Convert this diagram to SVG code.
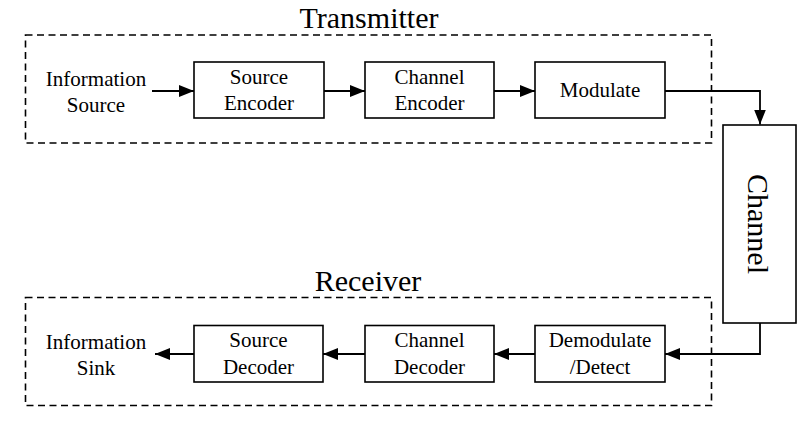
<svg xmlns="http://www.w3.org/2000/svg" width="807" height="426" viewBox="0 0 807 426">
<defs>
<marker id="ah" markerUnits="userSpaceOnUse" markerWidth="16" markerHeight="12" refX="15" refY="6" orient="auto">
<path d="M0,0 L15,6 L0,12 Z" fill="#000"/>
</marker>
<style>
text{font-family:"Liberation Serif","Times New Roman",serif;fill:#000;text-anchor:middle}
.t{font-size:21px}
.h{font-size:30px}
.box{fill:#fff;stroke:#000;stroke-width:1.6}
.dash{fill:none;stroke:#000;stroke-width:1.6;stroke-dasharray:7 4.5}
.c{fill:none;stroke:#000;stroke-width:1.8;marker-end:url(#ah)}
</style>
</defs>
<rect width="807" height="426" fill="#fff"/>
<g id="transmitter">
<rect class="dash" x="25.5" y="35" width="686" height="108"/>
<text class="h" x="369" y="28">Transmitter</text>
</g>
<g id="receiver">
<rect class="dash" x="25.5" y="297.5" width="686" height="108"/>
<text class="h" x="368" y="291">Receiver</text>
</g>
<g id="connectors">
<line class="c" x1="152" y1="91" x2="194" y2="91"/>
<line class="c" x1="324" y1="91" x2="365" y2="91"/>
<line class="c" x1="494" y1="91" x2="535" y2="91"/>
<polyline class="c" points="665,91 760,91 760,124.5"/>
<polyline class="c" points="760,323 760,354 665,354"/>
<line class="c" x1="535" y1="354" x2="494" y2="354"/>
<line class="c" x1="365" y1="354" x2="323" y2="354"/>
<line class="c" x1="194" y1="354" x2="155" y2="354"/>
</g>
<g id="info-source">
<text class="t" x="96" y="86">Information</text>
<text class="t" x="96" y="112">Source</text>
</g>
<g id="source-encoder">
<rect class="box" x="194" y="62" width="130" height="56"/>
<text class="t" x="259" y="84">Source</text>
<text class="t" x="259" y="110">Encoder</text>
</g>
<g id="channel-encoder">
<rect class="box" x="365" y="62" width="129" height="56"/>
<text class="t" x="429.5" y="84">Channel</text>
<text class="t" x="429.5" y="110">Encoder</text>
</g>
<g id="modulate">
<rect class="box" x="535" y="62" width="130" height="56"/>
<text class="t" x="600" y="97">Modulate</text>
</g>
<g id="channel">
<rect class="box" x="723" y="125" width="73" height="198"/>
<text class="h" transform="translate(748,224) rotate(90)" x="0" y="0">Channel</text>
</g>
<g id="demodulate">
<rect class="box" x="535" y="325.5" width="130" height="56.5"/>
<text class="t" x="600" y="347">Demodulate</text>
<text class="t" x="600" y="374">/Detect</text>
</g>
<g id="channel-decoder">
<rect class="box" x="365" y="325.5" width="129" height="56.5"/>
<text class="t" x="429.5" y="347">Channel</text>
<text class="t" x="429.5" y="374">Decoder</text>
</g>
<g id="source-decoder">
<rect class="box" x="194" y="325.5" width="129" height="56.5"/>
<text class="t" x="258.5" y="347">Source</text>
<text class="t" x="258.5" y="374">Decoder</text>
</g>
<g id="info-sink">
<text class="t" x="96" y="349">Information</text>
<text class="t" x="96" y="375">Sink</text>
</g>
</svg>
